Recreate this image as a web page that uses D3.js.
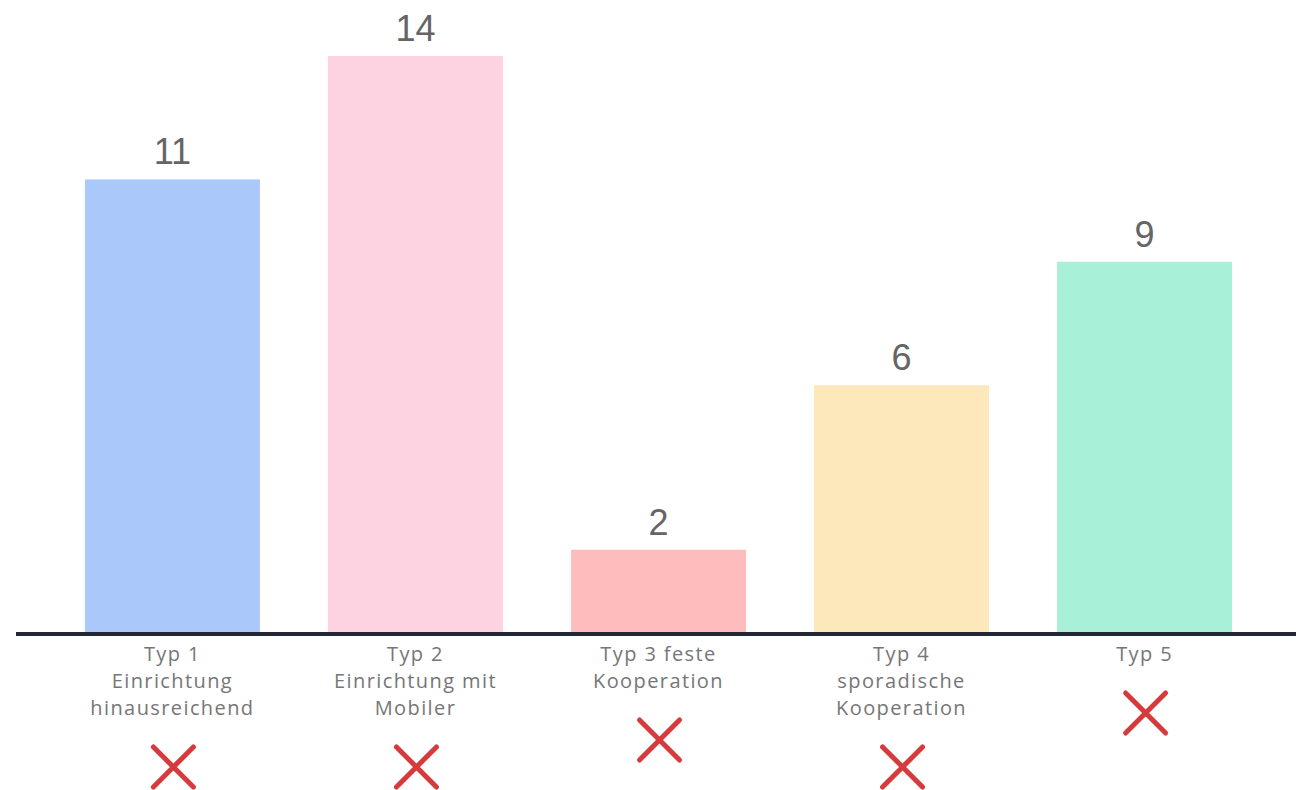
<!DOCTYPE html>
<html>
<head>
<meta charset="utf-8">
<script src="https://cdn.jsdelivr.net/npm/d3@7"></script>
<style>
  html, body { margin: 0; padding: 0; background: #ffffff; }
  svg { display: block; }
</style>
</head>
<body>
<div id="chart"></div>
<script>
// Data
const categories = ["Typ 1", "Typ 2", "Typ 3", "Typ 4", "Typ 5"];
const values = [11, 14, 2, 6, 9];
const labelLines = [
    ["Typ 1", "Einrichtung", "hinausreichend"],
    ["Typ 2", "Einrichtung mit", "Mobiler"],
    ["Typ 3 feste", "Kooperation"],
    ["Typ 4", "sporadische", "Kooperation"],
    ["Typ 5"]
];
const barColors = ["#abc8fb", "#fdd2e1", "#ffbcbc", "#fde8bb", "#a8f0d8"];

//Setting The Dimensions
let width = 1296, height = 790;
let baseline = 632;

//Scales
let x = d3.scaleBand()
    .domain(categories)
    .range([12, 1305])
    .paddingInner(0.28)
    .paddingOuter(0.3);

let y = d3.scaleLinear()
    .domain([0, 14])
    .range([baseline, 56]);

let svg = d3.select("#chart").append("svg")
    .attr("width", width)
    .attr("height", height);

let data = categories.map((c, i) => ({cat: c, value: values[i], color: barColors[i], lines: labelLines[i]}));

//Bars
svg.selectAll(".bar").data(data).enter().append("rect")
    .attr("class", "bar")
    .attr("x", d => x(d.cat))
    .attr("width", x.bandwidth())
    .attr("y", d => y(d.value))
    .attr("height", d => baseline - y(d.value))
    .style("fill", d => d.color);

//Value labels
svg.selectAll(".value").data(data).enter().append("text")
    .attr("class", "value")
    .attr("x", d => x(d.cat) + x.bandwidth() / 2)
    .attr("y", d => y(d.value) - 15)
    .attr("text-anchor", "middle")
    .style("font-family", "'Liberation Sans', Arial, sans-serif")
    .style("font-size", "36px")
    .style("fill", "#656565")
    .text(d => d.value);

//Baseline (x axis)
let xAxis = d3.axisBottom(x).tickSize(0).tickFormat("");
let axisG = svg.append("g").attr("class", "x-axis")
    .attr("transform", "translate(0," + (baseline + 2) + ")")
    .call(xAxis);
axisG.select(".domain")
    .attr("d", "M16,0H" + width)
    .style("stroke", "#232836")
    .style("stroke-width", 4);

//Category labels
let lineH = 27;
let labels = svg.selectAll(".cat-label").data(data).enter().append("text")
    .attr("class", "cat-label")
    .attr("text-anchor", "middle")
    .style("font-family", "'Open Sans', 'Noto Sans', sans-serif")
    .style("font-size", "20px")
    .style("letter-spacing", "1.4px")
    .style("fill", "#767676");

labels.selectAll("tspan").data(d => d.lines.map(l => ({text: l, cx: x(d.cat) + x.bandwidth() / 2})))
    .enter().append("tspan")
    .attr("x", d => d.cx)
    .attr("y", (d, i) => 661 + i * lineH)
    .text(d => d.text);

//Red crosses
let half = 20;
let crosses = svg.selectAll(".cross").data(data).enter().append("g")
    .attr("class", "cross")
    .attr("transform", d => "translate(" + (x(d.cat) + x.bandwidth() / 2 + 1) + "," + (653 + (d.lines.length - 1) * lineH + 60) + ")");

crosses.append("path")
    .attr("d", "M" + (-half) + "," + (-half) + "L" + half + "," + half + "M" + half + "," + (-half) + "L" + (-half) + "," + half)
    .style("stroke", "#d63a3c")
    .style("stroke-width", 5)
    .style("stroke-linecap", "round")
    .style("fill", "none");
</script>
</body>
</html>
